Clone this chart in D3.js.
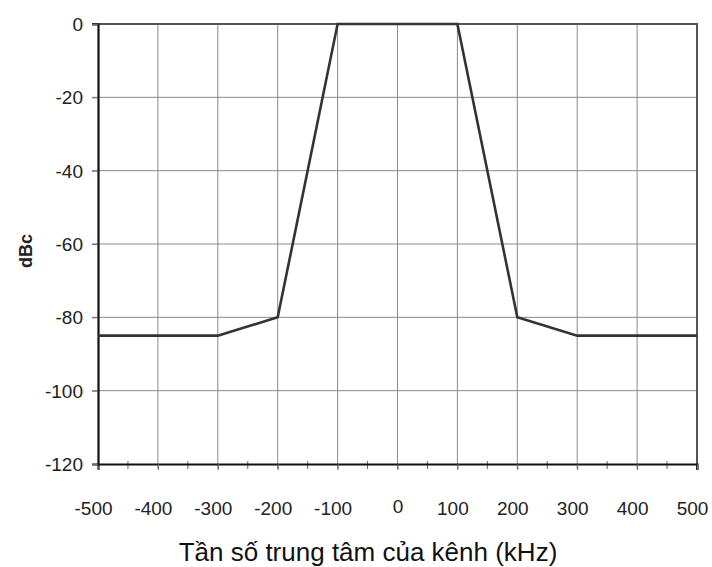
<!DOCTYPE html>
<html><head><meta charset="utf-8">
<script src="https://cdn.jsdelivr.net/npm/d3@7"></script>
<style>body{margin:0;background:#fff}svg{display:block}</style>
</head><body><svg id="c" width="712" height="567"></svg>
<script>
const freqs = [-500, -300, -200, -100, 100, 200, 300, 500];
const levels = [-85, -85, -80, 0, 0, -80, -85, -85];
const xTicks = [-500, -400, -300, -200, -100, 0, 100, 200, 300, 400, 500];
const xMinor = [-450, -350, -250, -150, -50, 50, 150, 250, 350, 450];
const yTicks = [0, -20, -40, -60, -80, -100, -120];
const yTitle = "dBc";
const xTitle = "Tần số trung tâm của kênh (kHz)";

const svg = d3.select("#c");
const x = d3.scaleLinear().domain([-500, 500]).range([98, 697]);
const y = d3.scaleLinear().domain([-120, 0]).range([464, 24]);
const font = "Arial, 'Liberation Sans', sans-serif";

// grid
svg.append("g").selectAll("line").data(xTicks.filter(d => d > -500 && d < 500)).join("line")
  .attr("x1", d => x(d)).attr("x2", d => x(d)).attr("y1", y(0)).attr("y2", y(-120) + 5)
  .attr("stroke", "#8a8a8a").attr("stroke-width", 1);
svg.append("g").selectAll("line").data(yTicks.filter(d => d > -120 && d < 0)).join("line")
  .attr("x1", x(-500) - 6).attr("x2", x(500)).attr("y1", d => y(d)).attr("y2", d => y(d))
  .attr("stroke", "#8a8a8a").attr("stroke-width", 1);

// frame top/right
svg.append("line").attr("x1", x(-500) - 6).attr("x2", x(500) + 1).attr("y1", y(0)).attr("y2", y(0))
  .attr("stroke", "#555").attr("stroke-width", 2);
svg.append("line").attr("x1", x(500)).attr("x2", x(500)).attr("y1", y(0)).attr("y2", y(-120) + 6)
  .attr("stroke", "#555").attr("stroke-width", 2);

// minor ticks
svg.append("g").selectAll("line").data(xMinor).join("line")
  .attr("x1", d => x(d)).attr("x2", d => x(d)).attr("y1", y(-120) - 3).attr("y2", y(-120) + 5)
  .attr("stroke", "#666").attr("stroke-width", 1);

// axes
const xAxis = svg.append("g").attr("transform", `translate(0,${y(-120)})`)
  .call(d3.axisBottom(x).tickValues(xTicks).tickSize(6).tickPadding(32).tickFormat(d3.format("d")));
xAxis.select(".domain").attr("stroke", "#111").attr("stroke-width", 2.2);
xAxis.selectAll(".tick line").attr("stroke", "#666");
xAxis.selectAll(".tick text").attr("font-family", font).attr("font-size", 19).attr("fill", "#222")
  .attr("dy", 0).attr("y", d => d === 0 ? 49 : 51)
  .attr("dx", d => d === 0 ? 0 : -5)
  .text(d => d === 0 ? "0" : String(d).replace("−", "-"));

const yAxis = svg.append("g").attr("transform", `translate(${x(-500)},0)`)
  .call(d3.axisLeft(y).tickValues(yTicks).tickSize(6).tickPadding(10));
yAxis.select(".domain").attr("stroke", "#111").attr("stroke-width", 2.2);
yAxis.selectAll(".tick line").attr("stroke", "#666");
yAxis.selectAll(".tick text").attr("font-family", font).attr("font-size", 19).attr("fill", "#222")
  .attr("x", -15).attr("dy", "0.35em")
  .text(d => String(d).replace("−", "-"));

// data line
svg.append("path").datum(freqs.map((f, i) => [f, levels[i]]))
  .attr("d", d3.line().x(d => x(d[0])).y(d => y(d[1])))
  .attr("fill", "none").attr("stroke", "#333").attr("stroke-width", 2.6).attr("stroke-linejoin", "miter");

// titles
svg.append("text").attr("transform", "translate(32,251) rotate(-90)")
  .attr("text-anchor", "middle").attr("font-family", font).attr("font-weight", "bold")
  .attr("font-size", 18).attr("fill", "#222").text(yTitle);
svg.append("text").attr("x", 368).attr("y", 561).attr("text-anchor", "middle")
  .attr("font-family", font).attr("font-size", 26).attr("fill", "#111").text(xTitle);
</script></body></html>
